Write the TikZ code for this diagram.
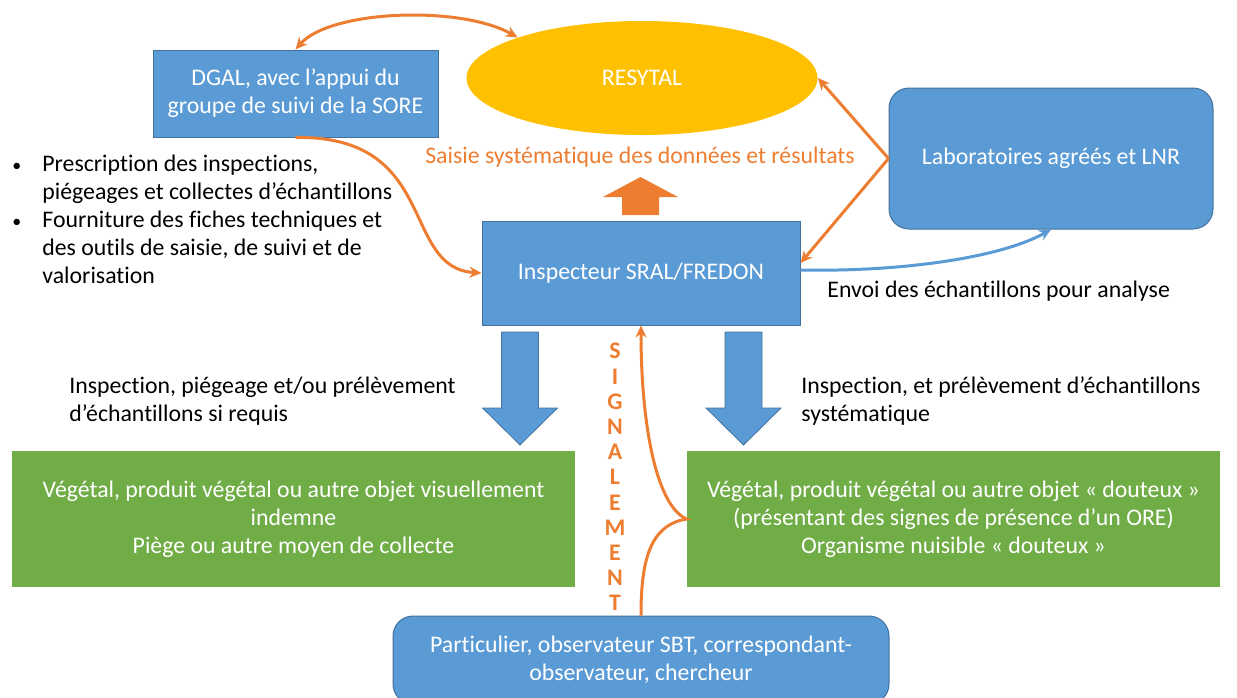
\documentclass[tikz,border=0pt]{standalone}
\usepackage{fontspec}
\setmainfont{Carlito}[Ligatures=NoCommon]
\usepackage{tikz}
\usetikzlibrary{arrows.meta,positioning,shapes.geometric}
\definecolor{boxblue}{HTML}{5B9BD5}
\definecolor{edgeblue}{HTML}{41719C}
\definecolor{leaf}{HTML}{70AD47}
\definecolor{gold}{HTML}{FFC000}
\definecolor{tangerine}{HTML}{ED7D31}
\newcommand{\bodyfont}{\fontsize{11.9}{14}\selectfont}
\tikzset{
  actorbox/.style={
    rectangle, draw=edgeblue, fill=boxblue, line width=0.5pt,
    text=white, font=\bodyfont, align=center, inner sep=0pt
  },
  resultbox/.style={
    rectangle, fill=leaf, text=white, font=\bodyfont,
    align=center, inner sep=0pt
  },
  sysellipse/.style={
    ellipse, fill=gold, text=white, font=\bodyfont, inner sep=0pt
  },
  flowarrow/.style={
    -{Stealth[length=6pt,width=5.5pt]}, line width=1.5pt, draw=#1
  },
  flowarrow/.default=tangerine,
  notetext/.style={font=\bodyfont, align=left, inner sep=0pt},
  blockarrow/.style={fill=#1, draw=#1!75!black, line width=0.4pt},
}

\begin{document}
\begin{tikzpicture}[x=0.5pt, y=-0.5pt]
  \useasboundingbox (0,0) rectangle (1237,697);
  \clip (0,0) rectangle (1237,697);

  % boxes
  \node[actorbox, minimum width=142.5pt, minimum height=43.5pt] (dgal) at (295.5,93.5)
    {DGAL, avec l’appui du\\groupe de suivi de la SORE};
  \node[sysellipse, minimum width=175.5pt, minimum height=57pt] (resytal) at (642,78) {RESYTAL};
  \node[actorbox, rounded corners=10pt, minimum width=162pt, minimum height=70.5pt] (labo) at (1051,158.5)
    {Laboratoires agréés et LNR};
  \node[actorbox, minimum width=159pt, minimum height=52pt] (inspect) at (641,273)
    {Inspecteur SRAL/FREDON};
  \node[resultbox, minimum width=281.5pt, minimum height=68pt] (vegleft) at (293.5,519)
    {Végétal, produit végétal ou autre objet visuellement\\indemne\\Piège ou autre moyen de collecte};
  \node[resultbox, minimum width=266.5pt, minimum height=68pt] (vegright) at (953.5,519)
    {Végétal, produit végétal ou autre objet « douteux »\\(présentant des signes de présence d’un ORE)\\Organisme nuisible « douteux »};
  \node[actorbox, rounded corners=10pt, minimum width=248pt, minimum height=44pt] (partic) at (641,660)
    {Particulier, observateur SBT, correspondant-\\observateur, chercheur};

  % texts
  \node[notetext, anchor=base west] (tasks) at (12,171) {%
    \begin{tabular}[t]{@{}p{15pt}@{}l@{}}
      {\small •} & Prescription des inspections,\\
                  & piégeages et collectes d’échantillons\\
      {\small •} & Fourniture des fiches techniques et\\
                  & des outils de saisie, de suivi et de\\
                  & valorisation
    \end{tabular}};
  \node[notetext, text=tangerine] (saisie) at (640,157) {Saisie systématique des données et résultats};
  \node[notetext, anchor=west] (envoi) at (827,291) {Envoi des échantillons pour analyse};
  \node[notetext, anchor=west] (insleft) at (69,401) {Inspection, piégeage et/ou prélèvement\\d’échantillons si requis};
  \node[notetext, anchor=west] (insright) at (801,401) {Inspection, et prélèvement d’échantillons\\systématique};
  \node[font=\fontsize{11.9}{12.6}\selectfont\bfseries, text=tangerine, align=center, inner sep=0pt] (signal) at (615,477)
    {S\\I\\G\\N\\A\\L\\E\\M\\E\\N\\T};

  % block arrows
  \foreach \cx in {520,743.5}
    \draw[blockarrow=boxblue] (\cx-18.5,332) -- (\cx+18.5,332) -- (\cx+18.5,408) -- (\cx+37.5,408)
      -- (\cx,445) -- (\cx-37.5,408) -- (\cx-18.5,408) -- cycle;
  \fill[tangerine] (622,215) -- (659,215) -- (659,197) -- (678,197) -- (640.5,177)
    -- (603,197) -- (622,197) -- cycle;

  % connectors
  \draw[flowarrow, {Stealth[length=6pt,width=5.5pt]}-{Stealth[length=6pt,width=5.5pt]}]
    (dgal.north) .. controls (330,10) and (460,5) .. (resytal.north west);
  \draw[flowarrow] (dgal.south) .. controls (440,135) and (400,268) .. (inspect.west);
  \draw[flowarrow] (labo.west) -- (resytal.east);
  \draw[flowarrow] (labo.west) -- ([yshift=5pt]inspect.east);
  \draw[flowarrow=boxblue] ([yshift=1.5pt]inspect.east) .. controls (900,272) and (1000,258) .. (labo.south);
  \draw[flowarrow] (partic.north) .. controls (641,560) and (650,525) .. (vegright.west)
    .. controls (655,505) and (641,420) .. (inspect.south);
\end{tikzpicture}
\end{document}
